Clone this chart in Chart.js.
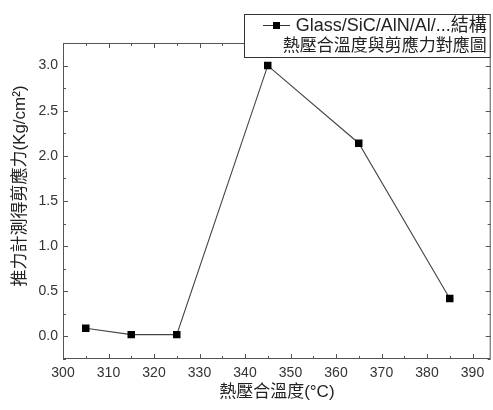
<!DOCTYPE html>
<html>
<head>
<meta charset="utf-8">
<script src="https://cdn.jsdelivr.net/npm/chart.js@4/dist/chart.umd.min.js"></script>
<style>
  html, body { margin: 0; padding: 0; background: #fff; overflow: hidden; }
  #wrap { width: 496px; height: 410px; }
</style>
</head>
<body>
<div id="wrap"><canvas id="graf"></canvas></div>
<script>
"use strict"

// 熱壓合溫度 (°C) 與剪應力 (Kg/cm²)
var temperaturas = [305, 315, 325, 345, 365, 385];
var esfuerzos = [0.09, 0.02, 0.02, 3.0, 2.14, 0.42];

var nombreSerie = ["Glass/SiC/AlN/Al/...結構", "熱壓合溫度與剪應力對應圖"];
var tituloX = "熱壓合溫度(°C)";
var tituloY = "推力計測得剪應力(Kg/cm²)";

var fuente = '"Liberation Sans", "Noto Sans CJK TC", Arial, sans-serif';

// marco completo con marcas hacia adentro (arriba/abajo, izquierda/derecha)
var marco = {
    id: 'marco',
    afterDraw: function(chart) {
        var ctx = chart.ctx;
        var a = chart.chartArea;
        var sx = chart.scales.x, sy = chart.scales.y;
        ctx.save();
        ctx.strokeStyle = '#555';
        ctx.lineWidth = 1;
        ctx.strokeRect(a.left + 0.5, a.top + 0.5, a.right - a.left - 1, a.bottom - a.top - 1);
        ctx.beginPath();
        sx.ticks.forEach(function(t) {
            var px = Math.round(sx.getPixelForValue(t.value)) + 0.5;
            var largo = (t.value % 10 === 0) ? 5 : 3;
            ctx.moveTo(px, a.bottom);
            ctx.lineTo(px, a.bottom - largo);
            ctx.moveTo(px, a.top);
            ctx.lineTo(px, a.top + largo);
        });
        sy.ticks.forEach(function(t) {
            var py = Math.round(sy.getPixelForValue(t.value)) + 0.5;
            var mayor = Math.abs(t.value * 2 - Math.round(t.value * 2)) < 1e-6;
            var largo = mayor ? 5 : 3;
            ctx.moveTo(a.left, py);
            ctx.lineTo(a.left + largo, py);
            ctx.moveTo(a.right, py);
            ctx.lineTo(a.right - largo, py);
        });
        ctx.stroke();
        ctx.restore();
    }
};

// título del eje Y, girado, un poco por encima del centro
var rotuloY = {
    id: 'rotuloY',
    afterDraw: function(chart) {
        var ctx = chart.ctx;
        var a = chart.chartArea;
        ctx.save();
        ctx.translate(20, (a.top + a.bottom) / 2 - 15);
        ctx.rotate(-Math.PI / 2);
        ctx.fillStyle = '#222';
        ctx.font = '17px ' + fuente;
        ctx.textAlign = 'center';
        ctx.textBaseline = 'middle';
        ctx.fillText(tituloY, 0, 0);
        ctx.restore();
    }
};

// leyenda en caja blanca, encima del marco
var leyenda = {
    id: 'leyenda',
    afterDraw: function(chart) {
        var ctx = chart.ctx;
        var a = chart.chartArea;
        var x0 = 244, y0 = 14, x1 = a.right, y1 = 58;
        ctx.save();
        ctx.fillStyle = '#fff';
        ctx.fillRect(x0, y0, x1 - x0, y1 - y0);
        ctx.strokeStyle = '#333';
        ctx.lineWidth = 1;
        ctx.strokeRect(x0 + 0.5, y0 + 0.5, x1 - x0 - 1, y1 - y0 - 1);

        // símbolo de la serie
        ctx.strokeStyle = '#333';
        ctx.beginPath();
        ctx.moveTo(263, 25.5);
        ctx.lineTo(290, 25.5);
        ctx.stroke();
        ctx.fillStyle = '#000';
        ctx.fillRect(273, 22, 7, 7);

        ctx.fillStyle = '#222';
        ctx.textBaseline = 'middle';
        ctx.textAlign = 'right';
        ctx.font = '18px ' + fuente;
        ctx.fillText(nombreSerie[0], x1 - 4, 26);
        ctx.font = '17px ' + fuente;
        ctx.fillText(nombreSerie[1], x1 - 4, 46);
        ctx.restore();
    }
};

new Chart(document.getElementById('graf'), {
    type: 'line',
    data: {
        datasets: [{
            label: nombreSerie.join(' '),
            data: temperaturas.map(function(t, i) { return { x: t, y: esfuerzos[i] }; }),
            borderColor: '#444',
            borderWidth: 1.1,
            tension: 0,
            pointStyle: 'rect',
            pointRadius: 5.3,
            pointBackgroundColor: '#000',
            pointBorderColor: '#000',
            pointBorderWidth: 0
        }]
    },
    options: {
        responsive: true,
        maintainAspectRatio: false,
        animation: false,
        layout: { padding: { top: 43, right: 0, left: 0, bottom: 0 } },
        plugins: {
            legend: { display: false },
            tooltip: { enabled: false }
        },
        scales: {
            x: {
                type: 'linear',
                min: 300,
                max: 394,
                grid: { display: false, drawTicks: false },
                border: { display: false },
                ticks: {
                    stepSize: 5,
                    includeBounds: false,
                    autoSkip: false,
                    maxRotation: 0,
                    padding: 6,
                    color: '#333',
                    font: { family: fuente, size: 14 },
                    callback: function(v) { return v % 10 === 0 ? v : ''; }
                },
                title: {
                    display: true,
                    text: tituloX,
                    color: '#222',
                    font: { family: fuente, size: 17 },
                    padding: { top: 0, bottom: 7 }
                },
                afterFit: function(s) {
                    s.height = 51;
                    s.paddingLeft = 0;
                    s.paddingRight = 0;
                }
            },
            y: {
                min: -0.25,
                max: 3.25,
                grid: { display: false, drawTicks: false },
                border: { display: false },
                ticks: {
                    stepSize: 0.25,
                    includeBounds: false,
                    autoSkip: false,
                    padding: 5,
                    color: '#333',
                    font: { family: fuente, size: 14 },
                    callback: function(v) {
                        return Math.abs(v * 2 - Math.round(v * 2)) < 1e-6 ? v.toFixed(1) : '';
                    }
                },
                afterFit: function(s) { s.width = 63; }
            }
        }
    },
    plugins: [marco, rotuloY, leyenda]
});
</script>
</body>
</html>
